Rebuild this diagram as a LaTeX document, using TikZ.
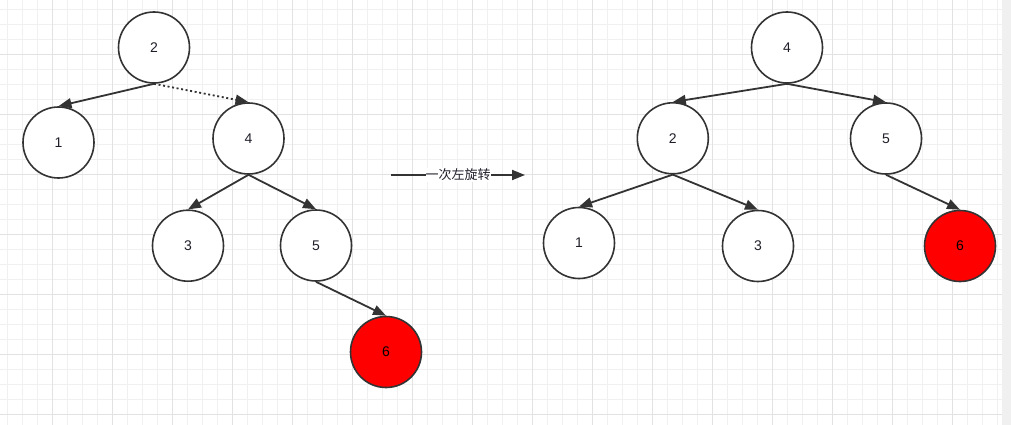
\documentclass[tikz,border=0pt]{standalone}
\usepackage{fontspec}
\setmainfont{Liberation Sans}
\newfontfamily\cjk{Noto Sans CJK SC}
\usetikzlibrary{arrows.meta}
\definecolor{stroke}{HTML}{333333}
\definecolor{minorgrid}{HTML}{F0F0F0}
\definecolor{majorgrid}{HTML}{E2E2E2}
\definecolor{stripgray}{HTML}{F0F0F0}
\definecolor{txt}{HTML}{1F1F2A}
\tikzset{
  treenode/.style={circle, draw=stroke, line width=1.6pt, fill=white, minimum size=71pt, inner sep=0pt, font=\fontsize{14}{16}\selectfont, text=txt},
  rednode/.style={treenode, fill=red, text=black},
  edge/.style={draw=stroke, line width=1.8pt, -{Triangle[length=13pt,width=10pt]}},
  dotedge/.style={edge, dash pattern=on 2pt off 2.6pt},
}
\begin{document}
\begin{tikzpicture}[x=1pt,y=-1pt]
\useasboundingbox (0,0) rectangle (1011,425);
\fill[white] (0,0) rectangle (1011,425);
% grid
\foreach \x in {7,22,...,997} \draw[minorgrid, line width=0.8pt] (\x,0) -- (\x,425);
\foreach \y in {9,24,...,424} \draw[minorgrid, line width=0.8pt] (0,\y) -- (1002,\y);
\foreach \x in {52,112,...,952} \draw[majorgrid, line width=0.8pt] (\x,0) -- (\x,425);
\foreach \y in {54,114,...,414} \draw[majorgrid, line width=0.8pt] (0,\y) -- (1002,\y);
\fill[stripgray] (1002,0) rectangle (1011,425);
% left tree
\node[treenode] (L2) at (154,47.5) {2};
\node[treenode] (L1) at (58.5,142.5) {1};
\node[treenode] (L4) at (248.5,138.5) {4};
\node[treenode] (L3) at (188,245.7) {3};
\node[treenode] (L5) at (316,245.5) {5};
\node[rednode] (L6) at (386,352) {6};
\draw[edge] (L2.south) -- (L1.north);
\draw[dotedge] (L2.south) -- (L4.north);
\draw[edge] (L4.south) -- (L3.north);
\draw[edge] (L4.south) -- (L5.north);
\draw[edge] (L5.south) -- (L6.north);
% right tree
\node[treenode] (R4) at (787,47.5) {4};
\node[treenode] (R2) at (672.8,138.3) {2};
\node[treenode] (R5) at (886,138.5) {5};
\node[treenode] (R1) at (579,243) {1};
\node[treenode] (R3) at (758,246) {3};
\node[rednode] (R6) at (960,246) {6};
\draw[edge] (R4.south) -- (R2.north);
\draw[edge] (R4.south) -- (R5.north);
\draw[edge] (R2.south) -- (R1.north);
\draw[edge] (R2.south) -- (R3.north);
\draw[edge] (R5.south) -- (R6.north);
% rotation arrow
\coordinate (A1) at (391,175);
\coordinate (A2) at (525,175);
\draw[edge] (A1) -- node[fill=white, inner xsep=0pt, inner ysep=1pt, font=\cjk\fontsize{13}{15}\selectfont, text=txt] (lbl) {一次左旋转} (A2);
\end{tikzpicture}
\end{document}
